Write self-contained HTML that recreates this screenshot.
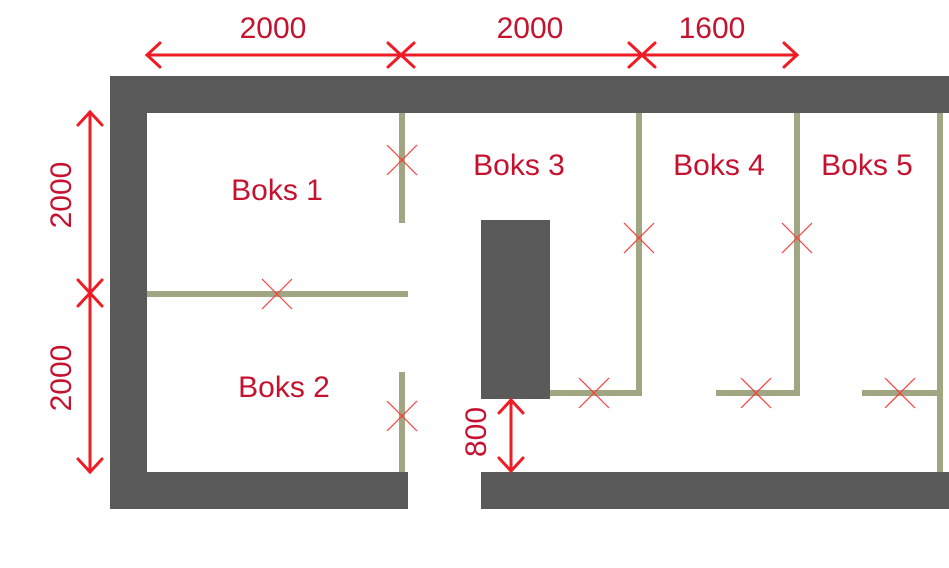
<!DOCTYPE html>
<html><head><meta charset="utf-8"><style>
html,body{margin:0;padding:0;background:#fff;}
svg{display:block;}
text{font-family:"Liberation Sans",sans-serif;fill:#c4122f;}
</style></head><body>
<svg width="949" height="568" viewBox="0 0 949 568" xmlns="http://www.w3.org/2000/svg">
<g fill="#5a5a5a">
<rect x="110" y="76" width="839" height="37"/>
<rect x="110" y="76" width="37" height="433"/>
<rect x="110" y="472" width="298" height="37"/>
<rect x="481" y="472" width="468" height="37"/>
<rect x="481" y="220" width="69" height="179"/>
</g>
<g stroke="#a0a582" stroke-width="6" fill="none">
<line x1="402" y1="113" x2="402" y2="223"/>
<line x1="402" y1="372" x2="402" y2="472"/>
<line x1="147" y1="294" x2="408" y2="294"/>
<polyline points="550,393 639,393 639,113"/>
<polyline points="716,393 797,393 797,113"/>
<line x1="862" y1="393" x2="940" y2="393"/>
<line x1="940" y1="113" x2="940" y2="472"/>
</g>
<g stroke="#ff3b3b" stroke-width="1.2">
<path d="M387 145L417 175M417 145L387 175"/>
<path d="M262 279L292 309M292 279L262 309"/>
<path d="M387 401L417 431M417 401L387 431"/>
<path d="M624 223L654 253M654 223L624 253"/>
<path d="M782 223L812 253M812 223L782 253"/>
<path d="M579 378L609 408M609 378L579 408"/>
<path d="M741 378L771 408M771 378L741 408"/>
<path d="M885 378L915 408M915 378L885 408"/>
</g>
<g stroke="#ee1c25" stroke-width="3" fill="none" stroke-linecap="round">
<line x1="147" y1="55" x2="797" y2="55"/>
<path d="M160 43L147 55L160 67"/>
<path d="M388 43L401 55L388 67M414 43L401 55L414 67"/>
<path d="M629 43L642 55L629 67M655 43L642 55L655 67"/>
<path d="M784 43L797 55L784 67"/>
<line x1="90" y1="112" x2="90" y2="472"/>
<path d="M78 125L90 112L102 125"/>
<path d="M78 280L90 293L102 280M78 306L90 293L102 306"/>
<path d="M78 459L90 472L102 459"/>
<line x1="511" y1="400" x2="511" y2="471"/>
<path d="M499 413L511 400L523 413M499 458L511 471L523 458"/>
</g>
<g font-size="30" text-anchor="middle">
<text x="273" y="38">2000</text>
<text x="530" y="38">2000</text>
<text x="712" y="38">1600</text>
<text x="277" y="200">Boks 1</text>
<text x="284" y="397">Boks 2</text>
<text x="519" y="175">Boks 3</text>
<text x="719" y="175">Boks 4</text>
<text x="867" y="175">Boks 5</text>
<text transform="translate(71,195) rotate(-90)">2000</text>
<text transform="translate(71,378) rotate(-90)">2000</text>
<text transform="translate(486,432) rotate(-90)">800</text>
</g>
</svg>
</body></html>
